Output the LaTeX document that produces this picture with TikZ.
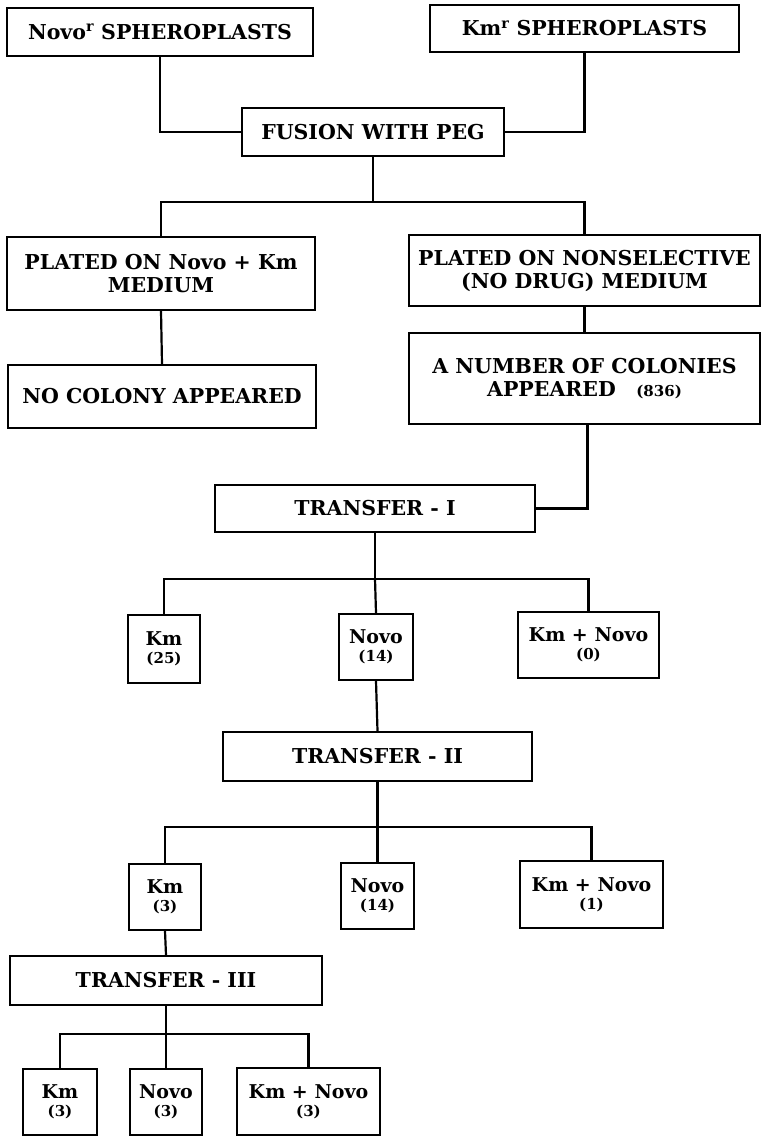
\documentclass[tikz,border=0pt]{standalone}
\usepackage{fontspec}
\setmainfont{DejaVu Serif}
\begin{document}
\begin{tikzpicture}[x=1pt,y=-1pt,
  bx/.style={draw=black, line width=2pt, inner sep=0pt, align=center,
     font=\bfseries\fontsize{20.5}{23}\selectfont},
  sm/.style={bx, font=\bfseries\fontsize{19}{20}\selectfont},
  conn/.style={draw=black, line width=2.2pt}]
\newcommand{\cnt}[1]{{\fontsize{15}{16}\selectfont #1}}
\useasboundingbox (0,0) rectangle (762,1137);
% row 1
\node[bx, minimum width=306pt, minimum height=48pt] (n1) at (160,32) {Novo\textsuperscript{r} SPHEROPLASTS};
\node[bx, minimum width=309pt, minimum height=47pt] (n2) at (584.5,28.5) {Km\textsuperscript{r} SPHEROPLASTS};
\node[bx, minimum width=262pt, minimum height=48pt] (fus) at (373,132) {FUSION WITH PEG};
% plated
\node[bx, minimum width=308pt, minimum height=73pt] (pl1) at (161,273.5) {PLATED ON Novo + Km\\MEDIUM};
\node[bx, minimum width=351pt, minimum height=71pt] (pl2) at (584.5,270.5) {PLATED ON NONSELECTIVE\\(NO DRUG) MEDIUM};
\node[bx, minimum width=308pt, minimum height=63pt] (nc) at (162,396.5) {NO COLONY APPEARED};
\node[bx, minimum width=351pt, minimum height=91pt] (num) at (584.5,378.5) {A NUMBER OF COLONIES\\APPEARED\quad\cnt{(836)}};
% transfer I
\node[bx, minimum width=320pt, minimum height=47pt] (t1) at (375,508.5) {TRANSFER - I};
\node[sm, minimum width=72pt, minimum height=68pt] (a1) at (164,649) {Km\\[-2pt]\cnt{(25)}};
\node[sm, minimum width=74pt, minimum height=66pt] (a2) at (376,647) {Novo\\[-2pt]\cnt{(14)}};
\node[sm, minimum width=141pt, minimum height=66pt] (a3) at (588.5,645) {Km + Novo\\[-2pt]\cnt{(0)}};
% transfer II
\node[bx, minimum width=309pt, minimum height=49pt] (t2) at (377.5,756.5) {TRANSFER - II};
\node[sm, minimum width=72pt, minimum height=66pt] (b1) at (165,897) {Km\\[-2pt]\cnt{(3)}};
\node[sm, minimum width=73pt, minimum height=66pt] (b2) at (377.5,896) {Novo\\[-2pt]\cnt{(14)}};
\node[sm, minimum width=143pt, minimum height=67pt] (b3) at (591.5,894.5) {Km + Novo\\[-2pt]\cnt{(1)}};
% transfer III
\node[bx, minimum width=312pt, minimum height=49pt] (t3) at (166,980.5) {TRANSFER - III};
\node[sm, minimum width=74pt, minimum height=66pt] (c1) at (60,1102) {Km\\[-2pt]\cnt{(3)}};
\node[sm, minimum width=72pt, minimum height=66pt] (c2) at (166,1102) {Novo\\[-2pt]\cnt{(3)}};
\node[sm, minimum width=143pt, minimum height=67pt] (c3) at (308.5,1101.5) {Km + Novo\\[-2pt]\cnt{(3)}};
% junctions
\coordinate (j1) at (373,202);
\coordinate (j2) at (375,579);
\coordinate (j3) at (377.5,827);
\coordinate (j4) at (166,1034);
% connectors
\draw[conn] (n1.south) |- (fus.west);
\draw[conn] (n2.south) |- (fus.east);
\draw[conn] (fus.south) -- (j1);
\draw[conn] (pl1.north) |- (j1) -| (pl2.north);
\draw[conn] (pl1.south) -- (nc.north);
\draw[conn] (pl2.south) -- (num.north);
\draw[conn] ([xshift=3pt]num.south) |- (t1.east);
\draw[conn] (t1.south) -- (j2);
\draw[conn] (a1.north) |- (j2) -| (a3.north);
\draw[conn] (j2) -- (a2.north);
\draw[conn] (a2.south) -- (t2.north);
\draw[conn] (t2.south) -- (j3);
\draw[conn] (b1.north) |- (j3) -| (b3.north);
\draw[conn] (j3) -- (b2.north);
\draw[conn] (b1.south) -- (t3.north);
\draw[conn] (t3.south) -- (j4);
\draw[conn] (c1.north) |- (j4) -| (c3.north);
\draw[conn] (j4) -- (c2.north);
\end{tikzpicture}
\end{document}
